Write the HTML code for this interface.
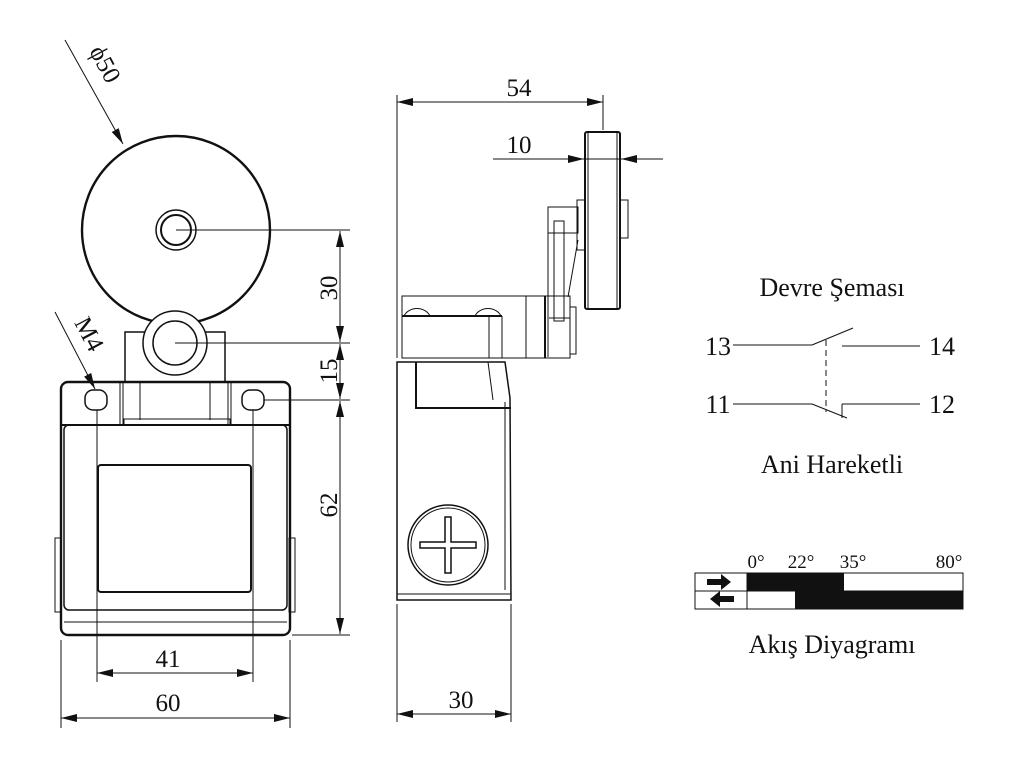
<!DOCTYPE html>
<html><head><meta charset="utf-8"><style>
html,body{margin:0;padding:0;background:#fff;}
svg{display:block;}
text{font-family:"Liberation Serif",serif;fill:#111;}
</style></head><body>
<svg width="1024" height="768" viewBox="0 0 1024 768" xmlns="http://www.w3.org/2000/svg">
<defs>
<marker id="a" viewBox="0 0 16 8" refX="16" refY="4" markerWidth="16" markerHeight="8" orient="auto-start-reverse" markerUnits="userSpaceOnUse"><path d="M0,0 L16,4 L0,8 z" fill="#111"/></marker>
</defs>
<g fill="none" stroke="#111" stroke-width="1">
<circle cx="176" cy="230" r="94" stroke-width="2.4"/>
<circle cx="176" cy="230" r="20" stroke-width="1.5"/>
<circle cx="176" cy="230" r="15" stroke-width="2"/>
<rect x="125" y="332" width="100" height="50" stroke-width="1.5"/>
<circle cx="175" cy="343" r="32" fill="#fff" stroke-width="1.5"/>
<circle cx="175" cy="343" r="22" stroke-width="1.5"/>
<rect x="61" y="382" width="229" height="253" rx="7" fill="#fff" stroke-width="2.4"/>
<line x1="61" y1="425" x2="290" y2="425" stroke-width="2"/>
<rect x="64" y="425" width="223" height="185" rx="5" stroke-width="1.5"/>
<line x1="120" y1="382" x2="120" y2="425"/><line x1="123" y1="382" x2="123" y2="425"/>
<line x1="228" y1="382" x2="228" y2="425"/><line x1="231" y1="382" x2="231" y2="425"/>
<line x1="140" y1="382" x2="140" y2="420"/><line x1="210" y1="382" x2="210" y2="420"/>
<rect x="124" y="419" width="106" height="6"/>
<rect x="85" y="390" width="22" height="20" rx="8" stroke-width="1.5"/>
<rect x="242" y="390" width="22" height="20" rx="8" stroke-width="1.5"/>
<rect x="98" y="465" width="153" height="127" rx="3" stroke-width="2"/>
<line x1="64" y1="622" x2="287" y2="622"/>
<rect x="55" y="538" width="6" height="74"/><rect x="289" y="538" width="6" height="74"/>
<line x1="176" y1="230" x2="350" y2="230"/>
<line x1="175" y1="343" x2="350" y2="343"/>
<line x1="264" y1="400" x2="350" y2="400"/>
<line x1="292" y1="635" x2="350" y2="635"/>
<line x1="340" y1="231" x2="340" y2="342" marker-start="url(#a)" marker-end="url(#a)"/>
<line x1="340" y1="344" x2="340" y2="399" marker-start="url(#a)" marker-end="url(#a)"/>
<line x1="340" y1="401" x2="340" y2="634" marker-start="url(#a)" marker-end="url(#a)"/>
<line x1="97" y1="410" x2="97" y2="682"/><line x1="253" y1="410" x2="253" y2="682"/>
<line x1="61" y1="640" x2="61" y2="728"/><line x1="290" y1="640" x2="290" y2="728"/>
<line x1="97" y1="673" x2="253" y2="673" marker-start="url(#a)" marker-end="url(#a)"/>
<line x1="61" y1="718" x2="290" y2="718" marker-start="url(#a)" marker-end="url(#a)"/>
<line x1="65" y1="40" x2="123" y2="144" marker-end="url(#a)"/>
<line x1="55" y1="312" x2="95" y2="389" marker-end="url(#a)"/>
<rect x="585" y="132" width="35" height="177" rx="2" stroke-width="2"/>
<line x1="588" y1="132" x2="588" y2="309"/><line x1="617" y1="132" x2="617" y2="309"/>
<rect x="620" y="200" width="8" height="38"/>
<rect x="577" y="200" width="8" height="50"/>
<rect x="548" y="207" width="30" height="26"/>
<rect x="554" y="221" width="10" height="100"/>
<line x1="548" y1="233" x2="548" y2="357"/>
<line x1="578" y1="240" x2="568" y2="297"/>
<rect x="402" y="296" width="168" height="62"/>
<rect x="570" y="307" width="6" height="47"/>
<line x1="526" y1="296" x2="526" y2="358"/><line x1="545" y1="296" x2="545" y2="358" stroke-width="2"/>
<line x1="549" y1="318" x2="570" y2="318"/>
<path d="M404,316 A14,12 0 0 1 430,316 M475,316 A14,12 0 0 1 501,316"/>
<line x1="402" y1="316" x2="502" y2="316" stroke-width="2"/>
<line x1="402" y1="316" x2="402" y2="358"/><line x1="489" y1="316" x2="489" y2="358"/><line x1="502" y1="316" x2="502" y2="358"/>
<path d="M397,362 L505,362 L510,398 L511,600 L397,600 Z" stroke-width="1.5"/>
<path d="M416,362 L416,408 L511,408" stroke-width="2"/>
<line x1="488" y1="362" x2="493" y2="400"/>
<line x1="505" y1="402" x2="505" y2="590"/>
<line x1="397" y1="594" x2="511" y2="594"/>
<circle cx="448" cy="545" r="40" stroke-width="1.5"/><circle cx="448" cy="545" r="37"/>
<path d="M445,517 h6 v25 h25 v6 h-25 v25 h-6 v-25 h-25 v-6 h25 z" stroke-width="1.5"/>
<line x1="397" y1="95" x2="397" y2="358"/><line x1="603" y1="95" x2="603" y2="130"/>
<line x1="397" y1="102" x2="603" y2="102" marker-start="url(#a)" marker-end="url(#a)"/>
<line x1="493" y1="159" x2="584" y2="159" marker-end="url(#a)"/>
<line x1="585" y1="159" x2="620" y2="159"/>
<line x1="663" y1="159" x2="621" y2="159" marker-end="url(#a)"/>
<line x1="397" y1="604" x2="397" y2="722"/><line x1="511" y1="604" x2="511" y2="722"/>
<line x1="397" y1="714" x2="511" y2="714" marker-start="url(#a)" marker-end="url(#a)"/>
<line x1="733" y1="345" x2="812" y2="345"/>
<line x1="812" y1="345" x2="853" y2="328"/>
<line x1="842" y1="346" x2="920" y2="346"/>
<line x1="826" y1="340" x2="826" y2="412" stroke-dasharray="6,4"/>
<line x1="733" y1="404" x2="812" y2="404"/>
<line x1="812" y1="404" x2="847" y2="418"/>
<line x1="842" y1="404" x2="842" y2="418"/>
<line x1="842" y1="404" x2="920" y2="404"/>
<rect x="747" y="573" width="97" height="18" fill="#111" stroke="none"/>
<rect x="795" y="591" width="168" height="18" fill="#111" stroke="none"/>
<rect x="695" y="573" width="268" height="36"/>
<line x1="695" y1="591" x2="963" y2="591"/>
<line x1="747" y1="573" x2="747" y2="609"/>
</g>
<path d="M707,579 h14 v-5 l10,8 l-10,8 v-5 h-14 z" fill="#111"/>
<path d="M734,596 h-14 v-5 l-10,8 l10,8 v-5 h14 z" fill="#111"/>
<text x="98" y="68" font-size="25" transform="rotate(62 98 68)" text-anchor="middle">ϕ50</text>
<text x="82" y="338" font-size="25" transform="rotate(62 82 338)" text-anchor="middle">M4</text>
<text x="330" y="288" font-size="25" transform="rotate(-90 330 288)" text-anchor="middle" dy="7">30</text>
<text x="330" y="371" font-size="25" transform="rotate(-90 330 371)" text-anchor="middle" dy="7">15</text>
<text x="330" y="505" font-size="25" transform="rotate(-90 330 505)" text-anchor="middle" dy="7">62</text>
<text x="168" y="667" font-size="25" text-anchor="middle">41</text>
<text x="168" y="711" font-size="25" text-anchor="middle">60</text>
<text x="461" y="708" font-size="25" text-anchor="middle">30</text>
<text x="519" y="96" font-size="25" text-anchor="middle">54</text>
<text x="519" y="153" font-size="25" text-anchor="middle">10</text>
<text x="832" y="296" font-size="26" text-anchor="middle">Devre Şeması</text>
<text x="718" y="355" font-size="26" text-anchor="middle">13</text>
<text x="942" y="355" font-size="26" text-anchor="middle">14</text>
<text x="718" y="413" font-size="26" text-anchor="middle">11</text>
<text x="942" y="413" font-size="26" text-anchor="middle">12</text>
<text x="832" y="473" font-size="26" text-anchor="middle">Ani Hareketli</text>
<text x="756" y="568" font-size="19" text-anchor="middle">0°</text>
<text x="801" y="568" font-size="19" text-anchor="middle">22°</text>
<text x="853" y="568" font-size="19" text-anchor="middle">35°</text>
<text x="949" y="568" font-size="19" text-anchor="middle">80°</text>
<text x="832" y="653" font-size="26" text-anchor="middle">Akış Diyagramı</text>
</svg>
</body></html>
